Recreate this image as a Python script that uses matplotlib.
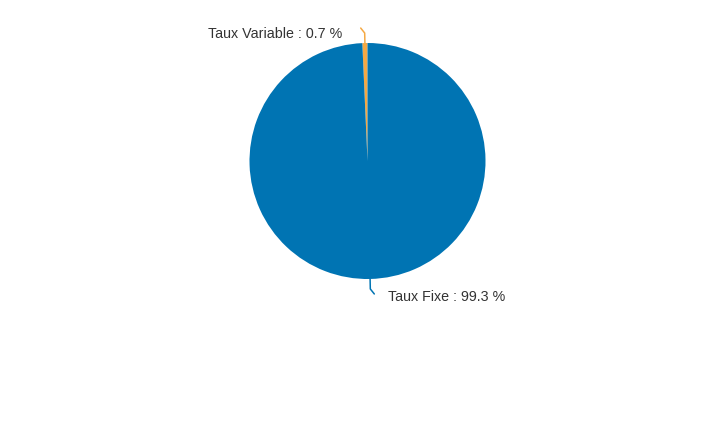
import numpy as np
import matplotlib
matplotlib.use("Agg")
import matplotlib.pyplot as plt

labels = ["Taux Variable", "Taux Fixe"]
values = [0.7, 99.3]
colors = ["#F5A944", "#0074B3"]

W, H = 719, 425
fig = plt.figure(figsize=(W / 100, H / 100), dpi=100)
ax = fig.add_axes([0, 0, 1, 1])

cx, cy, r = 367.5, H - 161, 118
wedges, _ = ax.pie(values, colors=colors, startangle=90, counterclock=True,
                   center=(cx, cy), radius=r, frame=True,
                   wedgeprops=dict(linewidth=0))
ax.set_xlim(0, W)
ax.set_ylim(0, H)
ax.set_aspect("equal")
ax.axis("off")

for w, lab, val, col in zip(wedges, labels, values, colors):
    a = np.deg2rad((w.theta1 + w.theta2) / 2)
    ca, sa = np.cos(a), np.sin(a)
    p0 = (cx + r * ca, cy + r * sa)
    p1 = (cx + (r + 10) * ca, cy + (r + 10) * sa)
    side = 1 if ca >= 0 else -1
    p2 = (p1[0] + 4 * side, p1[1] + 5 * np.sign(sa))
    ax.plot([p0[0], p1[0], p2[0]], [p0[1], p1[1], p2[1]], color=col, lw=1.1,
            solid_capstyle="round")
    tx = p2[0] + (14 if side > 0 else -18)
    ty = p2[1] - (6 if sa > 0 else 3)
    ax.text(tx, ty, f"{lab} : {val} %", ha="left" if side > 0 else "right",
            va="center", fontsize=10.3, family="Liberation Sans", color="#333333")

fig.savefig("out.png", dpi=100)
